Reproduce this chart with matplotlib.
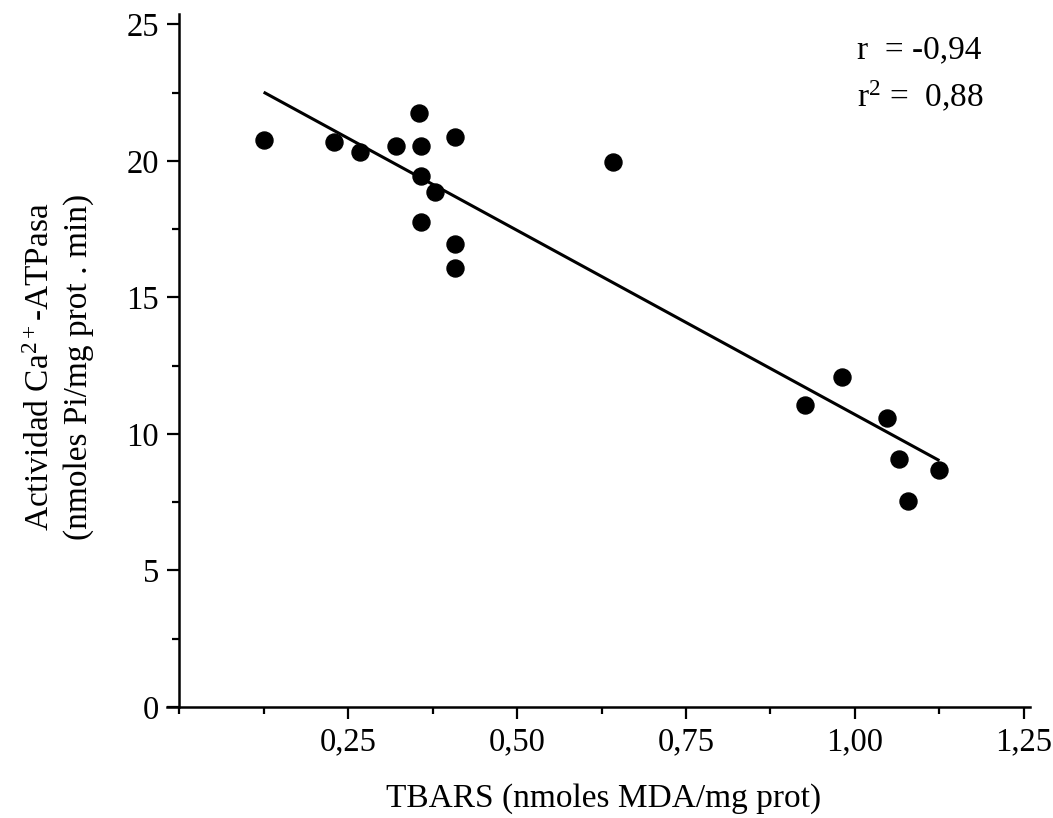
import matplotlib
matplotlib.use("Agg")
import matplotlib.pyplot as plt
from matplotlib.ticker import MultipleLocator, FuncFormatter

plt.rcParams['font.family'] = ['Liberation Serif', 'DejaVu Serif']
plt.rcParams['mathtext.fontset'] = 'custom'
plt.rcParams['mathtext.rm'] = 'Liberation Serif'
plt.rcParams['mathtext.it'] = 'Liberation Serif'

# TBARS (nmoles MDA/mg prot) vs Ca2+-ATPasa activity
tbars = [0.126, 0.229, 0.268, 0.321, 0.355, 0.358, 0.408, 0.358, 0.379, 0.358,
         0.408, 0.408, 0.642, 0.926, 0.981, 1.047, 1.065, 1.078, 1.124]
actividad = [20.77, 20.70, 20.33, 20.55, 21.75, 20.55, 20.88, 19.45, 18.86, 17.77,
             16.96, 16.08, 19.97, 11.06, 12.09, 10.58, 9.08, 7.55, 8.68]

# regression line end points
fit_x = [0.127, 1.123]
fit_y = [22.49, 9.05]

r_text = "r  = -0,94"
r2_text = "r$^2$ =  0,88"

fig = plt.figure(figsize=(10.53, 8.18), dpi=100)
ax = fig.add_axes([167 / 1053, 1 - 707 / 818, (1030 - 167) / 1053, (707 - 14) / 818])

ax.plot(fit_x, fit_y, color='black', lw=2.2)
ax.scatter(tbars, actividad, s=150, color='black', zorder=3)

ax.set_xlim(-0.018, 1.259)
ax.set_ylim(0, 25.38)

ax.spines['top'].set_visible(False)
ax.spines['right'].set_visible(False)
ax.spines['left'].set_position(('data', 0))
for sp in ['left', 'bottom']:
    ax.spines[sp].set_linewidth(1.8)

ax.set_xticks([0.25, 0.50, 0.75, 1.00, 1.25])
ax.xaxis.set_minor_locator(MultipleLocator(0.125))
ax.yaxis.set_major_locator(MultipleLocator(5))
ax.yaxis.set_minor_locator(MultipleLocator(2.5))
ax.xaxis.set_major_formatter(FuncFormatter(lambda v, p: ("%.2f" % v).replace('.', ',')))
ax.yaxis.set_major_formatter(FuncFormatter(lambda v, p: "%d" % v))

ax.tick_params(which='major', direction='out', length=8.5, width=1.6, labelsize=23.5, pad=6)
ax.tick_params(which='minor', direction='out', length=5, width=1.6)

# axis titles placed as figure text
fig.text(604 / 1053, 1 - 799 / 818, "TBARS (nmoles MDA/mg prot)", fontsize=24,
         ha='center', va='center')
fig.text(60 / 1053, 1 - 367 / 818, "Actividad Ca$^{2+}$-ATPasa\n(nmoles Pi/mg prot . min)",
         fontsize=24, ha='center', va='center', rotation=90, linespacing=1.3,
         multialignment='center')

ax.text(1.003, 24.07, r_text, fontsize=24, ha='left', va='center')
ax.text(1.003, 22.34, r2_text, fontsize=24, ha='left', va='center')

fig.savefig("out.png", dpi=100)
